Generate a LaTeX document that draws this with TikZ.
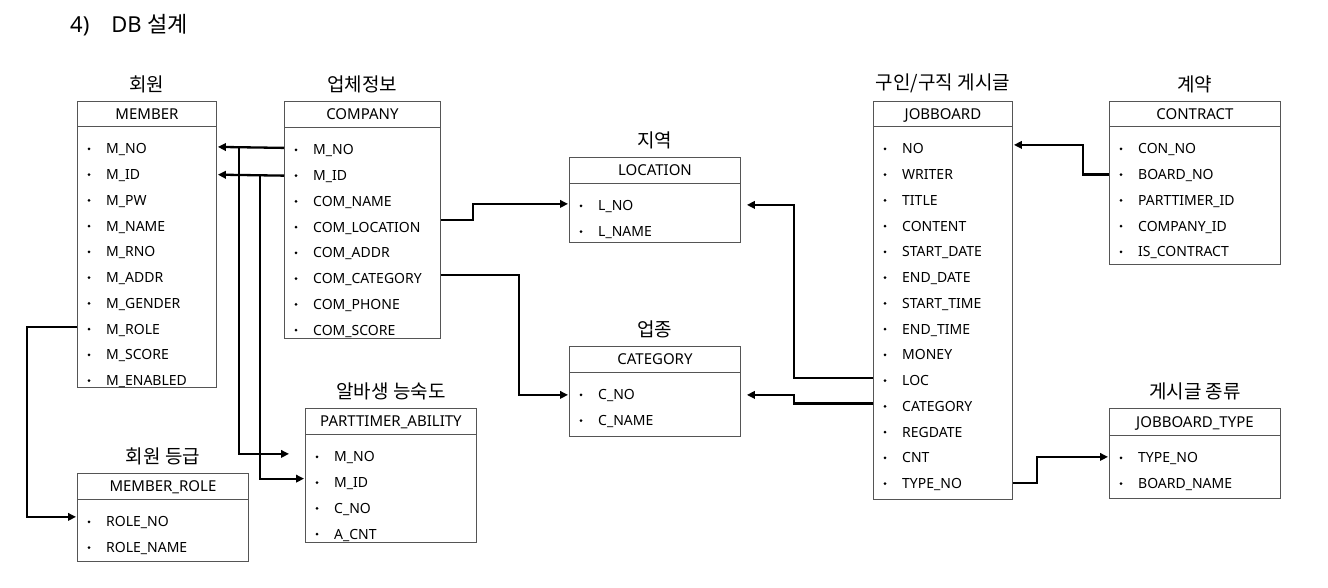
\documentclass[tikz,border=0pt]{standalone}
\usepackage{fontspec}
\setmainfont{Noto Sans}
\newfontfamily\kr{Noto Sans CJK KR}
\usepackage{tikz}
\usetikzlibrary{positioning,arrows.meta,calc}
\definecolor{boxgray}{HTML}{555555}

\begin{document}
\begin{tikzpicture}[x=1pt, y=-1pt,
    tbody/.style={draw=boxgray, line width=0.9pt, anchor=north west, inner sep=0pt},
    thead/.style={draw=boxgray, line width=0.9pt, anchor=north, inner sep=0pt,
                  minimum height=25pt, text height=10.5pt, text depth=0pt,
                  font=\fontsize{15}{17}\selectfont},
    ttitle/.style={inner sep=0pt, font=\kr\fontsize{19}{22}\selectfont},
    field/.style={anchor=west, inner sep=0pt, text height=10pt, text depth=0pt,
                  font=\fontsize{14}{16}\selectfont},
    link/.style={line width=2.3pt, -{Triangle[length=8pt,width=7.5pt]}, shorten >=1pt},
]
\fill[white] (0,0) rectangle (1328,588);
\useasboundingbox (0,0) rectangle (1328,588);

\node[anchor=west, inner sep=0pt, text height=16pt, text depth=0pt,
      font=\fontsize{22}{26}\selectfont] (title) at (70,25)
    {4)\hspace{22pt}DB {\kr 설계}};

% MEMBER
\node[tbody, minimum width=139, minimum height=286] (member) at (77,101) {};
\node[thead, minimum width=139] (member-h) at (member.north) {MEMBER};
\node[ttitle, above=8pt of member-h] (member-t) {회원};
\foreach \f [count=\i] in {M\_NO,M\_ID,M\_PW,M\_NAME,M\_RNO,M\_ADDR,M\_GENDER,M\_ROLE,M\_SCORE,M\_ENABLED} {
    \node[field] (member-\i) at ($(member-h.south west)+(29,25.75*\i-3.75)$) {\f};
    \fill ($(member-\i.west)+(-17,0)$) circle (1.5);
}

% COMPANY
\node[tbody, minimum width=156, minimum height=237] (company) at (284,101) {};
\node[thead, minimum width=156, minimum height=26] (company-h) at (company.north) {COMPANY};
\node[ttitle, above=8pt of company-h] (company-t) {업체정보};
\foreach \f [count=\i] in {M\_NO,M\_ID,COM\_NAME,COM\_LOCATION,COM\_ADDR,COM\_CATEGORY,COM\_PHONE,COM\_SCORE} {
    \node[field] (company-\i) at ($(company-h.south west)+(29,25.75*\i-3.75)$) {\f};
    \fill ($(company-\i.west)+(-17,0)$) circle (1.5);
}

% LOCATION
\node[tbody, minimum width=171, minimum height=85] (loc) at (569,157) {};
\node[thead, minimum width=171, minimum height=26] (loc-h) at (loc.north) {LOCATION};
\node[ttitle, above=8pt of loc-h] (loc-t) {지역};
\foreach \f [count=\i] in {L\_NO,L\_NAME} {
    \node[field] (loc-\i) at ($(loc-h.south west)+(29,25.75*\i-3.75)$) {\f};
    \fill ($(loc-\i.west)+(-17,0)$) circle (1.5);
}

% CATEGORY
\node[tbody, minimum width=171, minimum height=90] (cat) at (569,346) {};
\node[thead, minimum width=171, minimum height=26] (cat-h) at (cat.north) {CATEGORY};
\node[ttitle, above=8pt of cat-h] (cat-t) {업종};
\foreach \f [count=\i] in {C\_NO,C\_NAME} {
    \node[field] (cat-\i) at ($(cat-h.south west)+(29,25.75*\i-3.75)$) {\f};
    \fill ($(cat-\i.west)+(-17,0)$) circle (1.5);
}

% PARTTIMER_ABILITY
\node[tbody, minimum width=171, minimum height=134] (pa) at (305,408) {};
\node[thead, minimum width=171, minimum height=26] (pa-h) at (pa.north) {PARTTIMER\_ABILITY};
\node[ttitle, above=8pt of pa-h] (pa-t) {알바생 능숙도};
\foreach \f [count=\i] in {M\_NO,M\_ID,C\_NO,A\_CNT} {
    \node[field] (pa-\i) at ($(pa-h.south west)+(29,25.75*\i-3.75)$) {\f};
    \fill ($(pa-\i.west)+(-17,0)$) circle (1.5);
}

% MEMBER_ROLE
\node[tbody, minimum width=171, minimum height=88] (mrole) at (77,473) {};
\node[thead, minimum width=171, minimum height=26] (mrole-h) at (mrole.north) {MEMBER\_ROLE};
\node[ttitle, above=8pt of mrole-h] (mrole-t) {회원 등급};
\foreach \f [count=\i] in {ROLE\_NO,ROLE\_NAME} {
    \node[field] (mrole-\i) at ($(mrole-h.south west)+(29,25.75*\i-3.75)$) {\f};
    \fill ($(mrole-\i.west)+(-17,0)$) circle (1.5);
}

% JOBBOARD
\node[tbody, minimum width=139, minimum height=398] (jb) at (873,101) {};
\node[thead, minimum width=139] (jb-h) at (jb.north) {JOBBOARD};
\node[ttitle, above=8pt of jb-h] (jb-t) {구인/구직 게시글};
\foreach \f [count=\i] in {NO,WRITER,TITLE,CONTENT,START\_DATE,END\_DATE,START\_TIME,END\_TIME,MONEY,LOC,CATEGORY,REGDATE,CNT,TYPE\_NO} {
    \node[field] (jb-\i) at ($(jb-h.south west)+(29,25.75*\i-3.75)$) {\f};
    \fill ($(jb-\i.west)+(-17,0)$) circle (1.5);
}

% CONTRACT
\node[tbody, minimum width=171, minimum height=163] (ct) at (1109,101) {};
\node[thead, minimum width=171] (ct-h) at (ct.north) {CONTRACT};
\node[ttitle, above=8pt of ct-h] (ct-t) {계약};
\foreach \f [count=\i] in {CON\_NO,BOARD\_NO,PARTTIMER\_ID,COMPANY\_ID,IS\_CONTRACT} {
    \node[field] (ct-\i) at ($(ct-h.south west)+(29,25.75*\i-3.75)$) {\f};
    \fill ($(ct-\i.west)+(-17,0)$) circle (1.5);
}

% JOBBOARD_TYPE
\node[tbody, minimum width=171, minimum height=90] (jbt) at (1109,408) {};
\node[thead, minimum width=171, minimum height=27] (jbt-h) at (jbt.north) {JOBBOARD\_TYPE};
\node[ttitle, above=8pt of jbt-h] (jbt-t) {게시글 종류};
\foreach \f [count=\i] in {TYPE\_NO,BOARD\_NAME} {
    \node[field] (jbt-\i) at ($(jbt-h.south west)+(29,25.75*\i-3.75)$) {\f};
    \fill ($(jbt-\i.west)+(-17,0)$) circle (1.5);
}

% connectors
\draw[link] ([yshift=2pt]company.west |- company-1) -- ([yshift=2pt]member.east |- member-1);
\draw[link] ([xshift=22pt,yshift=2pt]member.east |- member-1) |- ([xshift=-15pt,yshift=3pt]pa.west |- pa-1);
\draw[link] (company.west |- company-2) -- (member.east |- member-2);
\draw[link] ([xshift=43pt]member.east |- member-2) |- ([yshift=4pt]pa.west |- pa-2);
\draw[link] ([yshift=2pt]member.west |- member-8) -- ++(-50,0) |- ([yshift=5pt]mrole.west |- mrole-1);
\draw[link] ([yshift=7pt]company.east |- company-4) -- ++(32,0) |- ([yshift=2pt]loc.west |- loc-1);
\draw[link] ([yshift=4pt]company.east |- company-6) -- ++(78,0) |- (cat.west |- cat-1);
\draw[link] ([yshift=3pt]jb.west |- jb-10) -- ++(-79,0) |- ([xshift=5pt,yshift=1pt]loc.east |- loc-1);
\draw[link] ([yshift=3pt]jb.west |- jb-11) -- ++(-79,0) |- ([xshift=5pt]cat.east |- cat-1);
\draw[link] (ct.west |- ct-2) -- ++(-26,0) |- ([yshift=4pt]jb.east |- jb-1);
\draw[link] ([yshift=1pt]jb.east |- jb-14) -- ++(24,0) |- ([yshift=1pt]jbt.west |- jbt-1);
\end{tikzpicture}
\end{document}
